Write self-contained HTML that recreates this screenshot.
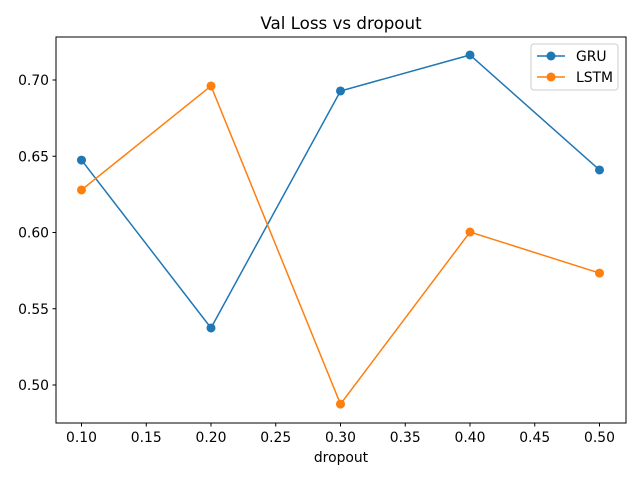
<!DOCTYPE html>
<html><head><meta charset="utf-8"><style>
body{margin:0;background:#fff;}
svg{display:block;font-family:"DejaVu Sans","Liberation Sans",sans-serif;}
</style></head><body>
<svg id="chart" width="640" height="480" viewBox="0 0 640 480" xmlns="http://www.w3.org/2000/svg">
<text x="341" y="29" font-size="16.7" text-anchor="middle">Val Loss vs dropout</text>
<g id="grid"></g>
<rect x="56" y="37" width="570" height="386" fill="none" stroke="#000" stroke-width="1"/>
<text x="341" y="462" font-size="13.9" text-anchor="middle">dropout</text>
<g id="legend">
<rect x="531" y="44" width="87" height="46" rx="3" fill="#fff" stroke="#ccc"/>
<g>
<line x1="537" y1="56" x2="565" y2="56" stroke="#1f77b4" stroke-width="1.5"/><circle cx="551" cy="56" r="4.5" fill="#1f77b4"/>
<text x="576" y="61" font-size="13.9">GRU</text></g>
<g>
<line x1="537" y1="77" x2="565" y2="77" stroke="#ff7f0e" stroke-width="1.5"/><circle cx="551" cy="77" r="4.5" fill="#ff7f0e"/>
<text x="576" y="82" font-size="13.9">LSTM</text></g>
</g>
</svg>
<script>
const categories=[0.1,0.2,0.3,0.4,0.5];
const gruValues=[0.6475,0.5374,0.6928,0.7164,0.641];
const lstmValues=[0.6279,0.6961,0.4875,0.6003,0.5734];
const xTicks=["0.10","0.15","0.20","0.25","0.30","0.35","0.40","0.45","0.50"];
const yTicks=["0.50","0.55","0.60","0.65","0.70"];
const NS="http://www.w3.org/2000/svg";
const svg=document.getElementById('chart');
const g=document.getElementById('grid');
function xs(v){return 81.5+(v-0.1)*1295;}
function ys(v){return 80+(0.70-v)*1525;}
function mk(t,a,p){const e=document.createElementNS(NS,t);for(const k in a)e.setAttribute(k,a[k]);(p||g).appendChild(e);return e;}
xTicks.forEach(s=>{const v=parseFloat(s),x=xs(v);
const l=mk('line',{x1:x,x2:x,y1:423,y2:426.5,stroke:'#000'});


const t=mk('text',{x:x,y:442,'font-size':13.9,'text-anchor':'middle'});t.textContent=s;

});
yTicks.forEach(s=>{const v=parseFloat(s),y=ys(v);
const l=mk('line',{x1:52.5,x2:56,y1:y,y2:y,stroke:'#000'});


const t=mk('text',{x:49,y:y+5,'font-size':13.9,'text-anchor':'end'});t.textContent=s;

});
function series(vals,color,name){
const pts=vals.map((v,i)=>xs(categories[i])+','+ys(v)).join(' ');
const pl=mk('polyline',{points:pts,fill:'none',stroke:color,'stroke-width':1.5});


vals.forEach((v,i)=>{const c=mk('circle',{cx:xs(categories[i]),cy:ys(v),r:4.5,fill:color});

});}
series(gruValues,'#1f77b4','gru');
series(lstmValues,'#ff7f0e','lstm');
svg.appendChild(document.getElementById('legend'));
</script>
</body></html>
